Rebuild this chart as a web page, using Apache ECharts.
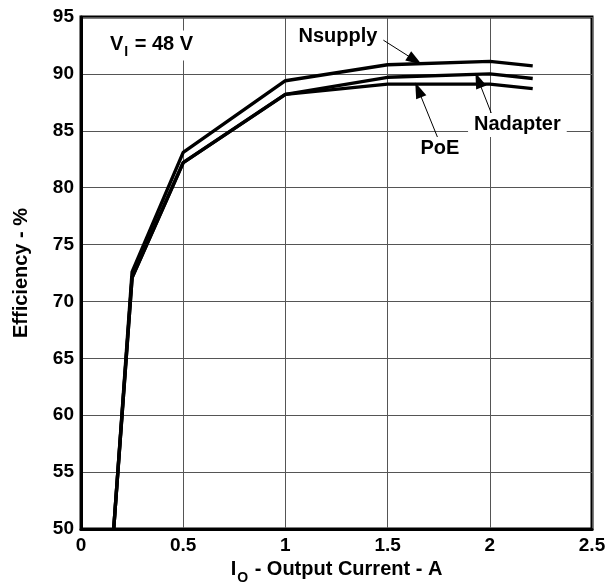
<!DOCTYPE html>
<html>
<head>
<meta charset="utf-8">
<script src="https://cdn.jsdelivr.net/npm/echarts@6/dist/echarts.min.js"></script>
<style>
	html,body{margin:0;padding:0;background:#fff;}
	#main{width:608px;height:586px;}
</style>
</head>
<body>
<div id="main"></div>
<script>
// data
var xCurrent = [0.16, 0.25, 0.5, 1, 1.5, 2, 2.21];
var nSupply  = [50, 72.6, 83.1, 89.4, 90.8, 91.1, 90.7];
var nAdapter = [50, 72.1, 82.2, 88.2, 89.7, 90.0, 89.6];
var poe      = [50, 72.1, 82.2, 88.2, 89.1, 89.1, 88.7];

// axis ranges
var xRange = [0, 2.5, 0.5];
var yRange = [50, 95, 5];

// annotations (data coords): label centre, arrow tail, arrow tip
var noteNsupply  = { text: 'Nsupply',  at: [1.257, 93.33], from: [1.463, 93.15], to: [1.634, 91.2] };
var noteNadapter = { text: 'Nadapter', at: [2.135, 85.51], from: [2.014, 86.24], to: [1.944, 89.45] };
var notePoe      = { text: 'PoE',      at: [1.756, 83.40], from: [1.753, 84.04], to: [1.650, 88.6] };
var noteVin      = { at: [0.345, 92.5] };

var FONT = 'Liberation Sans, Arial, sans-serif';

function pairs(ys){
	return xCurrent.map(function(x, i){ return [x, ys[i]]; });
}

// label + arrow for one curve
function noteMarks(note){
	return {
		markPoint: {
			silent: true,
			symbol: 'rect',
			symbolSize: 1,
			itemStyle: { color: 'rgba(0,0,0,0)' },
			label: {
				show: true, position: 'inside', formatter: note.text,
				color: '#000', fontFamily: FONT, fontWeight: 'bold', fontSize: 20,
				backgroundColor: '#fff', padding: [2, 6, 2, 6]
			},
			data: [{ coord: note.at }]
		},
		markLine: {
			silent: true,
			animation: false,
			label: { show: false },
			lineStyle: { color: '#000', width: 1, type: 'solid' },
			data: [[
				{ coord: note.from, symbol: 'none' },
				{ coord: note.to, symbol: 'triangle', symbolSize: [11, 16], itemStyle: { color: '#000' } }
			]]
		}
	};
}

function curve(name, ys, note){
	var s = {
		name: name,
		type: 'line',
		data: pairs(ys),
		symbol: 'none',
		lineStyle: { color: '#000', width: 3.4 },
		z: 3
	};
	if (note) {
		var m = noteMarks(note);
		s.markPoint = m.markPoint;
		s.markLine = m.markLine;
	}
	return s;
}

var vinSeries = {
	type: 'line',
	data: [],
	markPoint: {
		silent: true,
		symbol: 'rect',
		symbolSize: 1,
		itemStyle: { color: 'rgba(0,0,0,0)' },
		label: {
			show: true, position: 'inside',
			formatter: '{m|V}{s|I}{m| = 48 V}',
			backgroundColor: '#fff', padding: [4, 4, 4, 4],
			rich: {
				m: { fontFamily: FONT, fontWeight: 'bold', fontSize: 20, color: '#000', lineHeight: 22, verticalAlign: 'top' },
				s: { fontFamily: FONT, fontWeight: 'bold', fontSize: 14, color: '#000', lineHeight: 14, padding: [11, 1, 0, 1], verticalAlign: 'top' }
			}
		},
		data: [{ coord: noteVin.at }]
	}
};

var myChart = echarts.init(document.getElementById('main'));
var option = {
	animation: false,
	backgroundColor: '#fff',
	grid: {
		left: 81, top: 17, right: 16, bottom: 57,
		show: true, borderColor: '#000', borderWidth: 3,
		outerBoundsMode: 'none'
	},
	xAxis: {
		type: 'value',
		min: xRange[0], max: xRange[1], interval: xRange[2],
		name: '{m|I}{s|O}{m| - Output Current - A}',
		nameLocation: 'middle',
		nameGap: 27,
		nameTextStyle: {
			rich: {
				m: { fontFamily: FONT, fontWeight: 'bold', fontSize: 20, color: '#000', lineHeight: 22, verticalAlign: 'top' },
				s: { fontFamily: FONT, fontWeight: 'bold', fontSize: 14, color: '#000', lineHeight: 14, padding: [11, 1, 0, 1], verticalAlign: 'top' }
			}
		},
		axisLine: { show: true, lineStyle: { color: '#000', width: 3 } },
		axisTick: { show: false },
		axisLabel: { color: '#000', fontFamily: FONT, fontWeight: 'bold', fontSize: 19, margin: 7 },
		splitLine: { show: true, lineStyle: { color: '#555', width: 1 } }
	},
	yAxis: {
		type: 'value',
		min: yRange[0], max: yRange[1], interval: yRange[2],
		name: 'Efficiency - %',
		nameLocation: 'middle',
		nameGap: 50,
		nameTextStyle: { color: '#000', fontFamily: FONT, fontWeight: 'bold', fontSize: 20 },
		axisLine: { show: true, lineStyle: { color: '#000', width: 3 } },
		axisTick: { show: false },
		axisLabel: { color: '#000', fontFamily: FONT, fontWeight: 'bold', fontSize: 19, margin: 7 },
		splitLine: { show: true, lineStyle: { color: '#555', width: 1 } }
	},
	series: [
		curve('Nsupply', nSupply, noteNsupply),
		curve('Nadapter', nAdapter, noteNadapter),
		curve('PoE', poe, notePoe),
		vinSeries
	]
};
myChart.setOption(option);
</script>
</body>
</html>
